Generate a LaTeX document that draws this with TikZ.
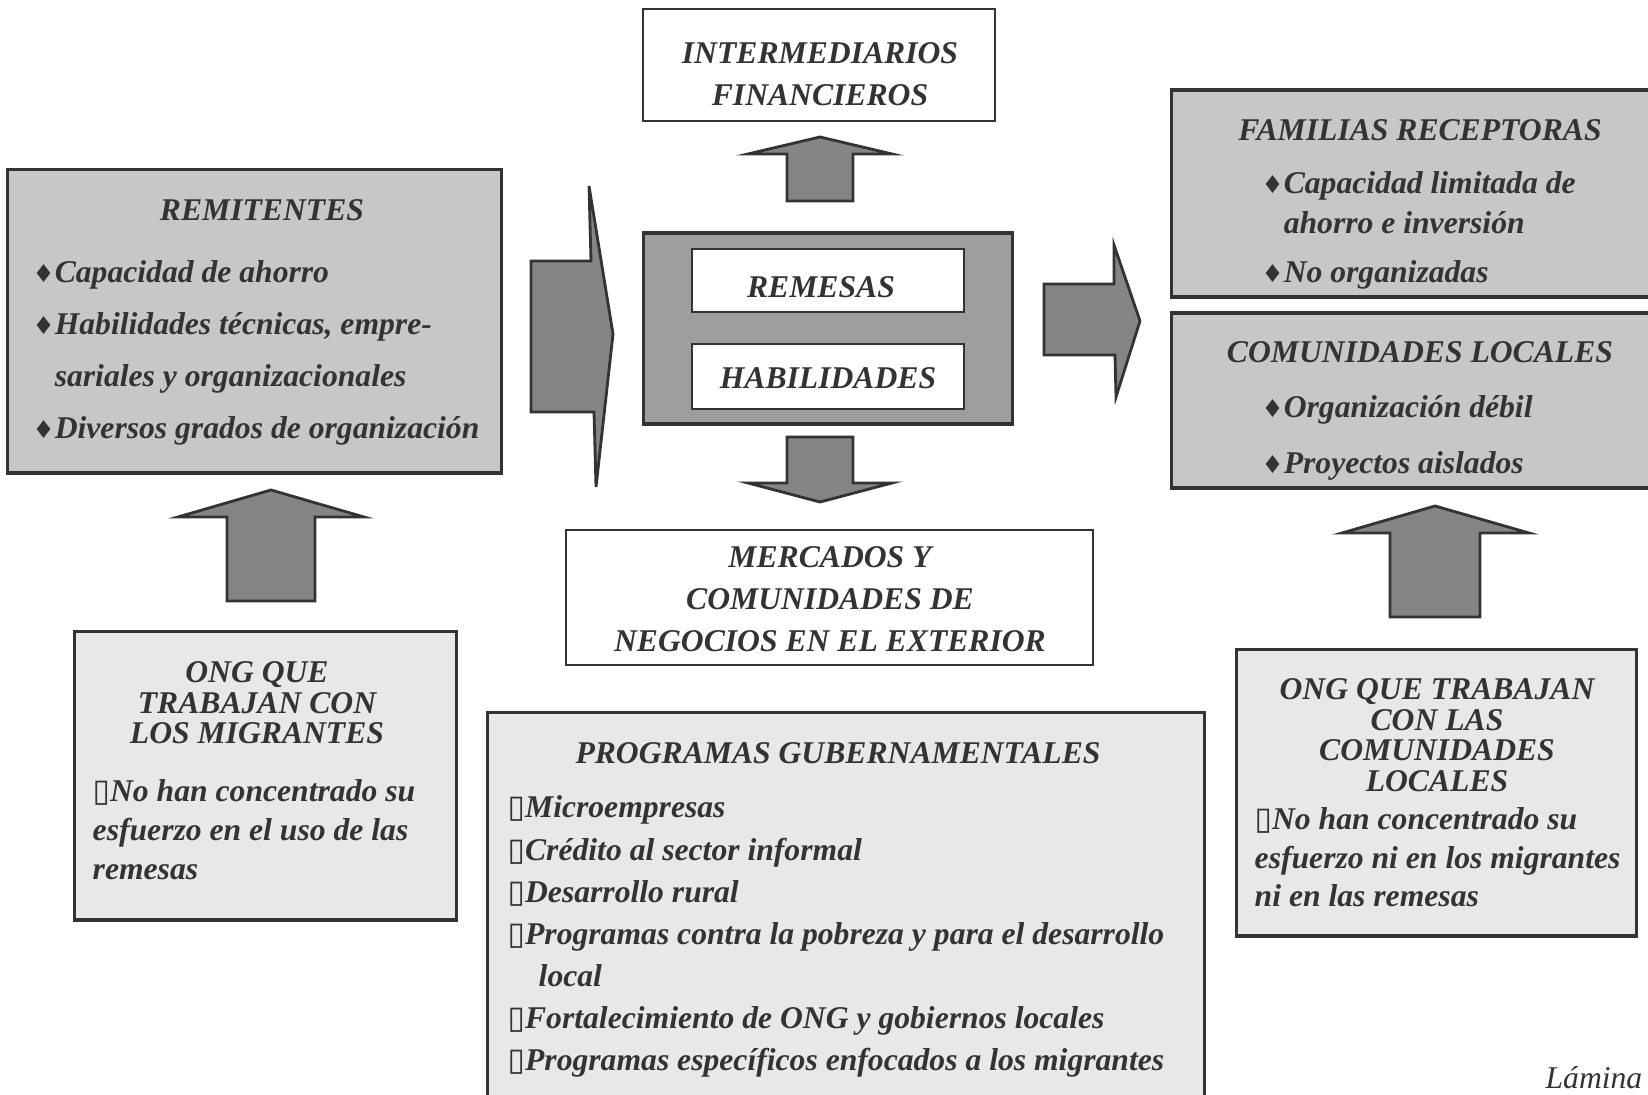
\documentclass[tikz,border=0pt]{standalone}
\usepackage{fontspec}
\setmainfont{Liberation Serif}
\newfontfamily\dejavu{DejaVu Sans}
\usetikzlibrary{positioning}
\newcommand{\rombo}{{\dejavu\fontsize{7}{7}\selectfont ♦}}
\newcommand{\cajita}{{\dejavu\fontsize{9}{9}\selectfont ▯}}

\begin{document}
\begin{tikzpicture}[x=0.01cm, y=-0.01cm,
	every node/.style={text=black!80, font=\bfseries\itshape\fontsize{9}{12}\selectfont},
	greybox/.style={draw=black!80, line width=0.9pt, fill=black!22},
	palebox/.style={draw=black!80, line width=0.9pt, fill=black!9},
	darkbox/.style={draw=black!80, line width=0.9pt, fill=black!38},
	whitebox/.style={draw=black!80, line width=0.7pt, fill=white},
	blockarrow/.style={draw=black!80, line width=0.8pt, fill=black!48, line join=miter},
	titulo/.style={align=center, inner sep=0pt, font=\bfseries\itshape\fontsize{9}{#1}\selectfont},
	titulo/.default=12,
	lista/.style={anchor=base west, align=left, inner sep=0pt, font=\bfseries\itshape\fontsize{9}{#1}\selectfont}]
	\clip (0,0) rectangle (1648,1095);

	\node[whitebox, minimum width=3.52cm, minimum height=1.12cm] (inter) at (819,65) {};
	\node[titulo] (interttl) at (820,74) {INTERMEDIARIOS\\FINANCIEROS};
	\node[darkbox, minimum width=3.68cm, minimum height=1.91cm] (centro) at (828,328.5) {};
	\node[whitebox, minimum width=2.72cm, minimum height=0.63cm] (remesas) at (828,280.5) {};
	\node[titulo] (remesasttl) at (821,287) {REMESAS};
	\node[whitebox, minimum width=2.72cm, minimum height=0.65cm] (habil) at (828,376.5) {};
	\node[titulo] (habilttl) at (828,378) {HABILIDADES};
	\node[whitebox, minimum width=5.27cm, minimum height=1.35cm] (mercados) at (829.5,597.5) {};
	\node[titulo] (mercadosttl) at (830,599) {MERCADOS Y\\COMUNIDADES DE\\NEGOCIOS EN EL EXTERIOR};

	\node[greybox, minimum width=4.93cm, minimum height=3.03cm] (remit) at (254.5,321.5) {};
	\node[titulo] (remitttl) at (262,210) {REMITENTES};
	\node[lista=14.8] (remitlst) at (32,439) {\rombo Capacidad de ahorro\\\rombo Habilidades técnicas, empre-\\\phantom{\rombo}sariales y organizacionales\\\rombo Diversos grados de organización};

	\node[greybox, minimum width=4.88cm, minimum height=2.07cm] (familias) at (1416,193.5) {};
	\node[titulo] (famttl) at (1420,130) {FAMILIAS RECEPTORAS};
	\node[lista=11.4] (famlst) at (1261,283) {\rombo Capacidad limitada de\\\phantom{\rombo}ahorro e inversión\\[2.6pt]\rombo No organizadas};

	\node[greybox, minimum width=4.88cm, minimum height=1.75cm] (comunid) at (1416,400.5) {};
	\node[titulo] (comttl) at (1420,352) {COMUNIDADES LOCALES};
	\node[lista=16.2] (comlst) at (1261,474) {\rombo Organización débil\\\rombo Proyectos aislados};

	\node[palebox, minimum width=3.81cm, minimum height=2.88cm] (ongmig) at (265.5,776) {};
	\node[titulo=8.7] (ongmigttl) at (257,703) {ONG QUE\\TRABAJAN CON\\LOS MIGRANTES};
	\node[lista=11.1] (ongmiglst) at (92,880) {\cajita No han concentrado su\\esfuerzo en el uso de las\\remesas};

	\node[palebox, minimum width=3.99cm, minimum height=2.86cm] (ongcom) at (1436.5,793) {};
	\node[titulo=8.7] (ongcomttl) at (1437,735) {ONG QUE TRABAJAN\\CON LAS\\COMUNIDADES\\LOCALES};
	\node[lista=11] (ongcomlst) at (1254,907) {\cajita No han concentrado su\\esfuerzo ni en los migrantes\\ni en las remesas};

	\node[palebox, minimum width=7.16cm, minimum height=3.87cm] (programas) at (846,906.5) {};
	\node[titulo] (progttl) at (838,753) {PROGRAMAS GUBERNAMENTALES};
	\node[lista=12] (proglst) at (507,1071) {\cajita Microempresas\\\cajita Crédito al sector informal\\\cajita Desarrollo rural\\\cajita Programas contra la pobreza y para el desarrollo\\\hspace*{0.31cm}local\\\cajita Fortalecimiento de ONG y gobiernos locales\\\cajita Programas específicos enfocados a los migrantes};

	\node[anchor=base east, inner sep=0pt, font=\itshape\fontsize{9}{12}\selectfont] (lamina) at (1643,1089) {Lámina};

	\coordinate (t1) at (613,334);
	\draw[blockarrow] (t1) -- (589,186) -- (591,261) -- (531,261) -- (531,412) -- (594,412) -- (596,487) -- cycle;
	\coordinate (t2) at (1140,321);
	\draw[blockarrow] (t2) -- (1114,245) -- (1114,284) -- (1044,284) -- (1044,355) -- (1115,355) -- (1116,397) -- cycle;
	\coordinate (t3) at (820,137);
	\draw[blockarrow] (t3) -- ++(72,17) -- ++(-39,0) -- ++(0,47) -- ++(-66,0) -- ++(0,-47) -- ++(-39,0) -- cycle;
	\coordinate (t4) at (820,502);
	\draw[blockarrow] (t4) -- ++(72,-19) -- ++(-39,0) -- ++(0,-46) -- ++(-66,0) -- ++(0,46) -- ++(-39,0) -- cycle;
	\coordinate (t5) at (271,490);
	\draw[blockarrow] (t5) -- ++(93,27) -- ++(-49,0) -- ++(0,84) -- ++(-88,0) -- ++(0,-84) -- ++(-49,0) -- cycle;
	\coordinate (t6) at (1435,506);
	\draw[blockarrow] (t6) -- ++(94,27) -- ++(-49,0) -- ++(0,84) -- ++(-90,0) -- ++(0,-84) -- ++(-48,0) -- cycle;
\end{tikzpicture}
\end{document}
